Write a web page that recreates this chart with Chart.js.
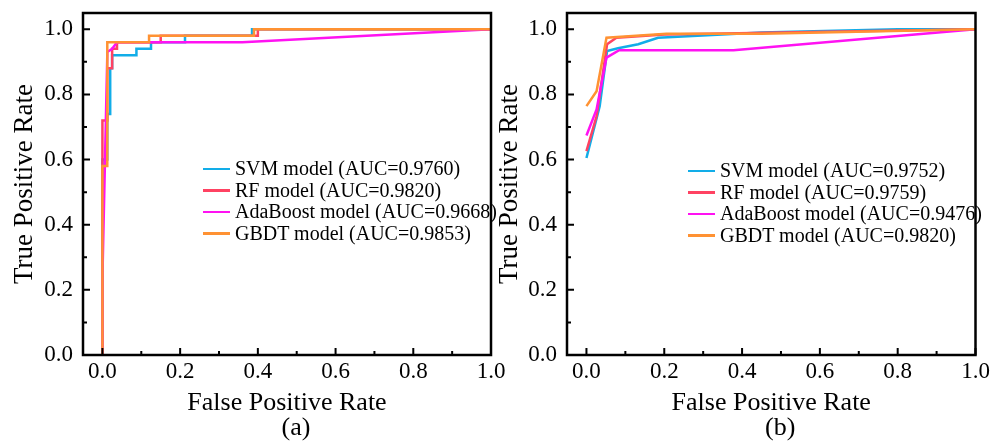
<!DOCTYPE html>
<html>
<head>
<meta charset="utf-8">
<script src="https://cdn.jsdelivr.net/npm/chart.js@4.4.1/dist/chart.umd.min.js"></script>
<style>
  html, body { margin: 0; padding: 0; background: #fff; }
  #wrap { position: relative; width: 1002px; height: 444px; overflow: hidden;
          font-family: "Liberation Serif", "Times New Roman", serif; }
  canvas { position: absolute; top: 0; }
  .legend { position: absolute; font-size: 20px; color: #000; }
  .legend .row { display: flex; align-items: center; height: 21.5px; white-space: nowrap; }
  .legend .swatch { width: 27px; height: 2.5px; margin-right: 5px; flex: none; }
</style>
</head>
<body>
<div id="wrap">
  <canvas id="rocA" width="512" height="444" style="left:0;width:512px;height:444px"></canvas>
  <canvas id="rocB" width="508" height="444" style="left:494px;width:508px;height:444px"></canvas>
  <div class="legend" id="legA" style="left:203px;top:158px"></div>
  <div class="legend" id="legB" style="left:688px;top:160px"></div>
</div>
<script>
// Models and their reported AUC values
const modelNames = ['SVM model', 'RF model', 'AdaBoost model', 'GBDT model'];
const aucA = ['0.9760', '0.9820', '0.9668', '0.9853'];
const aucB = ['0.9752', '0.9759', '0.9476', '0.9820'];

// Axis ticks
const majorTicks = [0.0, 0.2, 0.4, 0.6, 0.8, 1.0];
const minorTicks = [0.1, 0.3, 0.5, 0.7, 0.9];

// Panel (a): ROC curves (false positive rate / true positive rate)
const svmA_fpr = [0, 0, 0.0125, 0.0125, 0.02, 0.02, 0.025, 0.025, 0.0875, 0.0875, 0.125, 0.125, 0.2125, 0.2125, 0.385, 0.385, 1];
const svmA_tpr = [0, 0.6, 0.6, 0.74, 0.74, 0.88, 0.88, 0.92, 0.92, 0.94, 0.94, 0.96, 0.96, 0.98, 0.98, 1, 1];
const rfA_fpr  = [0, 0, 0.0125, 0.0125, 0.025, 0.025, 0.0375, 0.0375, 0.15, 0.15, 0.4, 0.4, 1];
const rfA_tpr  = [0, 0.72, 0.72, 0.88, 0.88, 0.94, 0.94, 0.96, 0.96, 0.98, 0.98, 1, 1];
const adaA_fpr = [0, 0, 0.0125, 0.0125, 0.025, 0.0375, 0.36, 1];
const adaA_tpr = [0, 0.24, 0.92, 0.93, 0.94, 0.96, 0.96, 1];
const gbdtA_fpr = [0, 0, 0.0125, 0.0125, 0.12, 0.12, 0.39, 0.39, 1];
const gbdtA_tpr = [0, 0.58, 0.58, 0.96, 0.96, 0.98, 0.98, 1, 1];

// Panel (b): ROC curves
const svmB_fpr = [0, 0.034, 0.053, 0.081, 0.133, 0.184, 0.45, 0.8, 1];
const svmB_tpr = [0.605, 0.764, 0.933, 0.942, 0.954, 0.974, 0.99, 1.0, 1.0];
const rfB_fpr  = [0, 0.026, 0.053, 0.077, 0.2, 1];
const rfB_tpr  = [0.626, 0.733, 0.954, 0.974, 0.984, 1];
const adaB_fpr = [0, 0.026, 0.0515, 0.084, 0.378, 1];
const adaB_tpr = [0.674, 0.754, 0.913, 0.936, 0.936, 1];
const gbdtB_fpr = [0, 0.026, 0.0515, 0.206, 0.45, 1];
const gbdtB_tpr = [0.764, 0.81, 0.974, 0.986, 0.986, 1];

const seriesColors = ['#12ADE8', '#FF4262', '#FF12F2', '#FF9233'];
const FONT = '"Liberation Serif", "Times New Roman", serif';

// Box frame, inward tick marks and the panel letter
const framePlugin = {
  id: 'frame',
  afterDraw(chart, args, opts) {
    const { ctx, chartArea: a, scales: { x, y } } = chart;
    ctx.save();
    ctx.strokeStyle = '#000';
    ctx.lineWidth = 2;
    ctx.beginPath();
    majorTicks.forEach(v => {
      const px = x.getPixelForValue(v);
      ctx.moveTo(px, a.bottom); ctx.lineTo(px, a.bottom - 7);
      const py = y.getPixelForValue(v);
      ctx.moveTo(a.left, py); ctx.lineTo(a.left + 7, py);
    });
    minorTicks.forEach(v => {
      const px = x.getPixelForValue(v);
      ctx.moveTo(px, a.bottom); ctx.lineTo(px, a.bottom - 4);
      const py = y.getPixelForValue(v);
      ctx.moveTo(a.left, py); ctx.lineTo(a.left + 4, py);
    });
    ctx.stroke();
    ctx.lineWidth = 2.5;
    ctx.strokeRect(a.left, a.top, a.right - a.left, a.bottom - a.top);
    ctx.fillStyle = '#000';
    ctx.font = '26px ' + FONT;
    ctx.textAlign = 'center';
    ctx.textBaseline = 'middle';
    ctx.fillText(opts.letter, (a.left + a.right) / 2 + 9, 428);
    ctx.restore();
  }
};

function buildLegend(id, aucs) {
  const el = document.getElementById(id);
  modelNames.forEach((name, i) => {
    const row = document.createElement('div');
    row.className = 'row';
    const sw = document.createElement('span');
    sw.className = 'swatch';
    sw.style.background = seriesColors[i];
    const tx = document.createElement('span');
    tx.textContent = name + ' (AUC=' + aucs[i] + ')';
    row.appendChild(sw); row.appendChild(tx);
    el.appendChild(row);
  });
}

function makeChart(canvasId, fprs, tprs, aucs, letter, yAxisWidth, yTitlePad, rightPad) {
  const datasets = modelNames.map((name, i) => ({
    label: name + ' (AUC=' + aucs[i] + ')',
    data: fprs[i].map((fx, k) => ({ x: fx, y: tprs[i][k] })),
    borderColor: seriesColors[i],
    backgroundColor: seriesColors[i],
    borderWidth: 2.5,
    pointRadius: 0,
    tension: 0,
    fill: false,
    order: modelNames.length - i
  }));
  const tickFont = { family: FONT, size: 23 };
  return new Chart(document.getElementById(canvasId), {
    type: 'line',
    data: { datasets },
    plugins: [framePlugin],
    options: {
      responsive: false,
      animation: false,
      events: [],
      layout: { padding: { left: 0, right: rightPad, top: 13, bottom: 0 } },
      plugins: { legend: { display: false }, tooltip: { enabled: false }, frame: { letter } },
      scales: {
        x: {
          type: 'linear', min: -0.05, max: 1.0,
          afterBuildTicks: s => { s.ticks = majorTicks.map(v => ({ value: v })); },
          afterFit: s => { s.height = 89; s.paddingLeft = 0; s.paddingRight = 0; },
          grid: { display: false, drawTicks: false },
          border: { display: false },
          ticks: { font: tickFont, color: '#000', padding: 3, maxRotation: 0, autoSkip: false,
                   callback: v => Number(v).toFixed(1) },
          title: { display: true, text: 'False Positive Rate', color: '#000',
                   font: { family: FONT, size: 26 }, padding: { top: 0, bottom: 25 } }
        },
        y: {
          type: 'linear', min: 0, max: 1.05,
          afterBuildTicks: s => { s.ticks = majorTicks.map(v => ({ value: v })); },
          afterFit: s => { s.width = yAxisWidth; s.paddingTop = 0; s.paddingBottom = 0; },
          grid: { display: false, drawTicks: false },
          border: { display: false },
          ticks: { font: tickFont, color: '#000', padding: 10, autoSkip: false,
                   callback: v => Number(v).toFixed(1) },
          title: { display: true, text: 'True Positive Rate', color: '#000',
                   font: { family: FONT, size: 27 }, padding: { top: yTitlePad, bottom: 0 } }
        }
      }
    }
  });
}

makeChart('rocA',
  [svmA_fpr, rfA_fpr, adaA_fpr, gbdtA_fpr],
  [svmA_tpr, rfA_tpr, adaA_tpr, gbdtA_tpr],
  aucA, '(a)', 83, 9, 21);
makeChart('rocB',
  [svmB_fpr, rfB_fpr, adaB_fpr, gbdtB_fpr],
  [svmB_tpr, rfB_tpr, adaB_tpr, gbdtB_tpr],
  aucB, '(b)', 73, 0, 26.5);

buildLegend('legA', aucA);
buildLegend('legB', aucB);
</script>
</body>
</html>
